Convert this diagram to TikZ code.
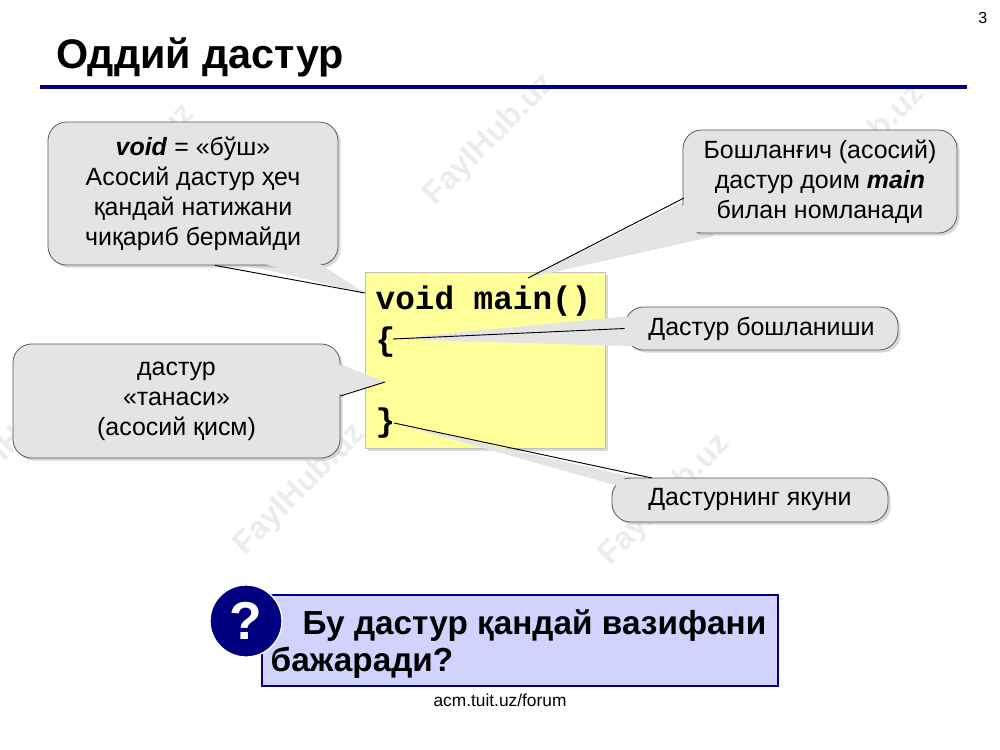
\documentclass[tikz,border=0pt]{standalone}
\usepackage{fontspec}
\usetikzlibrary{shadows}
\setmainfont{Liberation Sans}
\setmonofont{Liberation Mono}
\definecolor{navy}{HTML}{000080}
\definecolor{callg}{HTML}{E4E4E4}
\definecolor{codey}{HTML}{FFFF99}
\definecolor{qbox}{HTML}{D2D2FF}
\begin{document}
\begin{tikzpicture}[x=0.75pt,y=-0.75pt,
  callout/.style={draw=gray!70!black,line width=0.6pt,fill=callg,rounded corners=14pt,align=center,inner sep=0pt,
     font=\fontsize{18.7}{22.5}\selectfont,drop shadow={shadow xshift=2pt,shadow yshift=-2pt,fill=gray!60}},
  wedge/.style={fill=callg},
  lead/.style={draw=black,line width=0.7pt},
  wm/.style={text=gray!15,font=\bfseries\fontsize{24}{24}\selectfont,rotate=45}]
\useasboundingbox (0,0) rectangle (1000,750);
% watermarks
\foreach \x/\y in {130/170,490/140,860/150,20/435,300/490,665/500}
  \node[wm] at (\x,\y) {FaylHub.uz};
\node[anchor=north east,font=\fontsize{12}{12}\selectfont] (pg) at (992,8) {3};
\node[anchor=base west,font=\bfseries\fontsize{31}{31}\selectfont] (title) at (52,68) {Оддий дастур};
\draw[navy,line width=3pt] (40,87) -- (967,87);
% code box
\node[fill=codey,draw=gray!50,minimum width=180pt,minimum height=132pt,
  drop shadow={shadow xshift=2pt,shadow yshift=-2pt,fill=gray!60}] (code) at (485,360) {};
\node[anchor=base west,font=\ttfamily\bfseries\fontsize{24.5}{24.5}\selectfont] (l1) at (371,309) {void main()};
\node[anchor=base west,font=\ttfamily\bfseries\fontsize{24.5}{24.5}\selectfont] (l2) at (371,350) {\{};
\node[anchor=base west,font=\ttfamily\bfseries\fontsize{24.5}{24.5}\selectfont] (l3) at (371,431) {\}};
\coordinate (t1) at (365,293);
\coordinate (t2) at (528,278);
\coordinate (t3) at (393,339);
\coordinate (t4) at (385,382);
\coordinate (t5) at (394,423);
% wedges
\fill[wedge] (215,258) -- (t1) -- (300,258) -- cycle;
\fill[wedge] (690,198) -- (t2) -- (715,236) -- cycle;
\fill[wedge] (630,316) -- (t3) -- (630,346) -- cycle;
\fill[wedge] (335,362) -- (t4) -- (335,396) -- cycle;
\fill[wedge] (615,482) -- (t5) -- (655,482) -- cycle;
% callouts
\node[callout,minimum width=217.5pt,minimum height=107.25pt] (c1) at (193,193.5)
  {\textbf{\textit{void}} = «бўш»\\Асосий дастур ҳеч\\қандай натижани\\чиқариб бермайди};
\node[callout,minimum width=205.5pt,minimum height=77.25pt] (c2) at (820,181.5)
  {Бошланғич (асосий)\\дастур доим \textbf{\textit{main}}\\билан номланади};
\node[callout,minimum width=204.75pt,minimum height=32.25pt] (c3) at (761.5,328.5) {Дастур бошланиши};
\node[callout,minimum width=245.25pt,minimum height=85.5pt] (c4) at (176.5,401)
  {дастур\\«танаси»\\(асосий қисм)};
\node[callout,minimum width=207pt,minimum height=33pt] (c5) at (750,500) {Дастурнинг якуни};
% wedges over outlines
\fill[wedge] (217,250) -- (t1) -- (298,250) -- cycle;
\fill[wedge] (687,204) -- (t2) -- (706,230) -- cycle;
\fill[wedge] (633,316) -- (t3) -- (633,346) -- cycle;
\fill[wedge] (333,362) -- (t4) -- (333,396) -- cycle;
\fill[wedge] (618,486) -- (t5) -- (652,486) -- cycle;
\draw[lead] (c1.south) ++(22,0) coordinate (a1) -- (t1);
\draw[lead] (t2) -- (684,198);
\draw[lead] (t3) -- (c3.west);
\draw[lead] (t4) -- (c4.east |- 0,396);
\draw[lead] (t5) -- (652,478);
% question
\node[fill=qbox,draw=navy,line width=0.8pt,minimum width=387pt,minimum height=68.25pt] (q) at (520,640.5) {};
\node[anchor=base west,font=\bfseries\fontsize{25}{25}\selectfont] (q1) at (298,634) {Бу дастур қандай вазифани};
\node[anchor=base west,font=\bfseries\fontsize{25}{25}\selectfont] (q2) at (266,671) {бажаради?};
\node[circle,fill=navy,draw=white,line width=1pt,minimum size=54pt,text=white,
  font=\bfseries\fontsize{40}{40}\selectfont,inner sep=0pt] (qm) at (246,621) {?};
\node[font=\fontsize{13}{13}\selectfont] (foot) at (500,700) {acm.tuit.uz/forum};
\end{tikzpicture}
\end{document}
